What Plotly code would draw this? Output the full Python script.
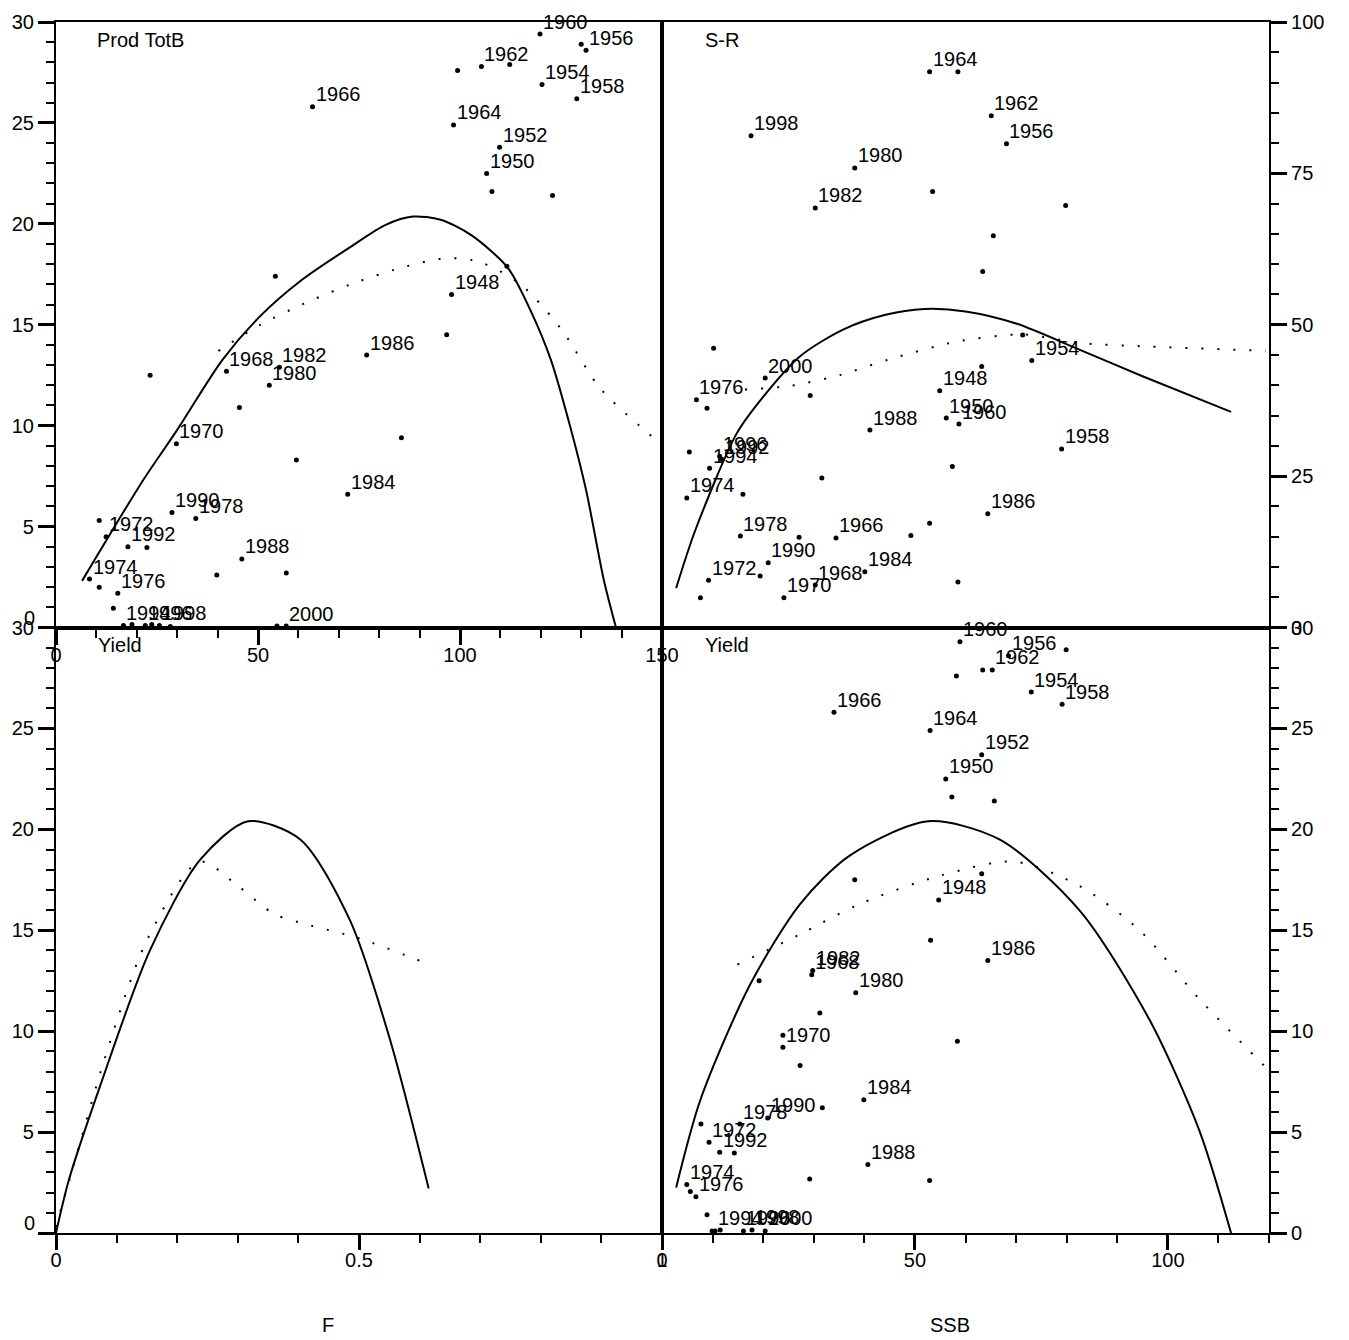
import plotly.graph_objects as go

FONT = "Liberation Sans, Arial, sans-serif"

# ---------------- data ----------------
# Panel 1: Prod TotB  (x = total biomass, y = yield)
tl_totb = [119.8, 130.0, 131.2, 105.3, 112.3, 99.4, 120.3, 128.9, 98.4, 109.8, 106.6, 107.9, 122.9,
           63.5, 97.9, 111.6, 96.7, 54.3, 76.9, 55.3, 52.8, 42.2, 23.3, 45.4, 29.8, 85.5, 59.5,
           72.2, 28.7, 34.6, 10.7, 12.4, 17.8, 22.5, 46.0, 8.3, 10.7, 15.3, 39.8, 57.0, 14.2,
           16.7, 18.8, 22.1, 23.7, 25.6, 28.3, 54.7, 57.0]
tl_yield = [29.4, 28.9, 28.6, 27.8, 27.9, 27.6, 26.9, 26.2, 24.9, 23.8, 22.5, 21.6, 21.4,
            25.8, 16.5, 17.9, 14.5, 17.4, 13.5, 12.9, 12.0, 12.7, 12.5, 10.9, 9.1, 9.4, 8.3,
            6.6, 5.7, 5.4, 5.3, 4.5, 4.0, 3.96, 3.4, 2.4, 2.0, 1.7, 2.6, 2.7, 0.95,
            0.1, 0.15, 0.1, 0.15, 0.1, 0.05, 0.07, 0.07]
tl_year = ["1960", "", "1956", "1962", "", "", "1954", "1958", "1964", "1952", "1950", "", "",
           "1966", "1948", "", "", "", "1986", "1982", "1980", "1968", "", "", "1970", "", "",
           "1984", "1990", "1978", "", "1972", "1992", "", "1988", "1974", "", "1976", "", "", "",
           "1994", "", "1996", "", "1998", "", "", "2000"]

# Panel 2: S-R  (x = SSB, y = recruitment)
tr_ssb = [52.9, 58.5, 65.1, 68.1, 17.6, 38.1, 30.3, 53.5, 79.8, 65.5, 63.4, 10.2, 73.1, 71.3,
          63.2, 20.4, 6.8, 8.9, 29.3, 54.9, 56.2, 58.7, 41.1, 57.4, 31.6, 5.4, 11.4, 11.8, 9.4,
          4.9, 16.0, 52.9, 64.4, 15.5, 34.4, 49.2, 27.1, 21.0, 9.2, 19.4, 40.1, 30.3, 24.1,
          7.6, 58.5, 79.0]
tr_rec = [91.8, 91.8, 84.5, 79.9, 81.2, 75.9, 69.3, 72.0, 69.7, 64.7, 58.8, 46.1, 44.1, 48.3,
          43.1, 41.2, 37.6, 36.2, 38.3, 39.1, 34.6, 33.6, 32.6, 26.6, 24.7, 29.0, 28.3, 27.8, 26.3,
          21.4, 22.0, 17.2, 18.8, 15.1, 14.8, 15.2, 14.9, 10.7, 7.8, 8.5, 9.2, 7.0, 4.9,
          4.9, 7.5, 29.5]
tr_year = ["1964", "", "1962", "1956", "1998", "1980", "1982", "", "", "", "", "", "1954", "",
           "", "2000", "1976", "", "", "1948", "1950", "1960", "1988", "", "", "", "1996", "1992", "1994",
           "1974", "", "", "1986", "1978", "1966", "", "", "1990", "1972", "", "1984", "1968", "1970",
           "", "", "1958"]

# Panel 4: Yield vs SSB
br_ssb = [58.9, 79.9, 68.5, 63.4, 65.3, 58.2, 73.0, 79.1, 53.0, 63.2, 56.1, 57.3, 65.7,
          34.0, 54.7, 63.2, 38.1, 53.1, 64.4, 29.8, 29.6, 38.3, 19.2, 31.2, 23.9, 23.9, 58.4,
          27.3, 39.9, 31.7, 20.9, 15.4, 9.3, 7.7, 11.4, 14.3, 4.9, 5.6, 6.7, 29.2, 40.7, 52.9,
          8.9, 9.9, 10.5, 11.5, 16.1, 17.8, 20.4]
br_yield = [29.3, 28.9, 28.6, 27.9, 27.9, 27.6, 26.8, 26.2, 24.9, 23.7, 22.5, 21.6, 21.4,
            25.8, 16.5, 17.8, 17.5, 14.5, 13.5, 13.0, 12.8, 11.9, 12.5, 10.9, 9.2, 9.8, 9.5,
            8.3, 6.6, 6.2, 5.7, 5.4, 4.5, 5.4, 4.0, 3.96, 2.4, 2.06, 1.8, 2.67, 3.4, 2.6,
            0.9, 0.1, 0.1, 0.15, 0.1, 0.15, 0.1]
br_year = ["1960", "", "1956", "", "1962", "", "1954", "1958", "1964", "1952", "1950", "", "",
           "1966", "1948", "", "", "", "1986", "1982", "1968", "1980", "", "", "1970", "", "",
           "", "1984", "", "1990", "1978", "1972", "", "1992", "", "1974", "", "1976", "", "1988", "",
           "", "", "1994", "", "1996", "1998", "2000"]

# model curves
tl_fit_b = [6.45, 21.6, 30.0, 41.2, 50.6, 60.5, 72.9, 81.6, 88.3, 95.2, 102.7, 111.8, 117.5,
            122.5, 127.5, 131.2, 135.6, 138.6]
tl_fit_y = [2.31, 7.31, 9.79, 13.26, 15.44, 17.17, 18.86, 19.95, 20.36, 20.2, 19.45, 17.83, 15.69,
            13.26, 9.79, 6.82, 2.35, 0.0]
tl_obs_b = [40.2, 50.6, 62.0, 72.9, 85.0, 96.5, 105.0, 115.0, 125.0, 134.9, 148.5]
tl_obs_y = [13.7, 15.0, 16.1, 17.0, 17.8, 18.3, 18.1, 17.0, 14.8, 11.8, 9.3]

tr_fit_s = [2.8, 6.6, 14.8, 20.0, 27.3, 35.8, 44.0, 51.9, 60.0, 70.0, 82.5, 95.0, 112.5]
tr_fit_r = [6.5, 16.1, 32.1, 38.1, 44.8, 49.2, 51.6, 52.6, 52.2, 50.2, 45.9, 41.5, 35.6]
tr_obs_s = [16.4, 25.3, 35.2, 45.0, 58.2, 71.3, 82.5, 96.3, 119.4]
tr_obs_r = [39.3, 39.9, 41.7, 44.3, 47.2, 48.4, 47.0, 46.4, 45.7]

bl_fit_f = [0.0, 0.021, 0.073, 0.155, 0.238, 0.317, 0.403, 0.485, 0.551, 0.615]
bl_fit_y = [0.0, 2.6, 7.3, 14.0, 18.5, 20.4, 19.5, 15.5, 9.6, 2.2]
bl_obs_f = [0.0, 0.04, 0.08, 0.15, 0.237, 0.30, 0.36, 0.40, 0.50, 0.608]
bl_obs_y = [0.3, 4.5, 8.6, 14.5, 18.4, 17.2, 15.8, 15.4, 14.6, 13.4]

br_fit_s = [2.8, 7.6, 17.4, 27.3, 37.1, 52.6, 66.7, 82.5, 96.3, 106.2, 112.5]
br_fit_y = [2.25, 6.6, 12.3, 16.3, 18.7, 20.4, 19.5, 16.0, 10.6, 5.1, 0.0]
br_obs_s = [14.9, 27.3, 39.1, 54.9, 69.7, 82.5, 94.4, 106.2, 119.4]
br_obs_y = [13.3, 14.8, 16.3, 17.7, 18.4, 17.2, 15.0, 11.6, 8.2]

# ---------------- figure ----------------
fig = go.Figure()
line_fit = dict(color="black", width=2, shape="spline", smoothing=0.8)
line_obs = dict(color="black", width=2, dash="2px,14px", shape="spline", smoothing=0.8)
mk = dict(color="black", size=5)


def add_panel(xa, ya, px, py, fx, fy, ox, oy):
    fig.add_trace(go.Scatter(x=fx, y=fy, mode="lines", line=line_fit, xaxis=xa, yaxis=ya,
                             hoverinfo="skip"))
    fig.add_trace(go.Scatter(x=ox, y=oy, mode="lines", line=line_obs, xaxis=xa, yaxis=ya,
                             hoverinfo="skip"))
    if px is not None:
        fig.add_trace(go.Scatter(x=px, y=py, mode="markers", marker=mk, xaxis=xa, yaxis=ya))


add_panel("x", "y", tl_totb, tl_yield, tl_fit_b, tl_fit_y, tl_obs_b, tl_obs_y)
add_panel("x2", "y2", tr_ssb, tr_rec, tr_fit_s, tr_fit_r, tr_obs_s, tr_obs_r)
add_panel("x3", "y3", None, None, bl_fit_f, bl_fit_y, bl_obs_f, bl_obs_y)
add_panel("x4", "y4", br_ssb, br_yield, br_fit_s, br_fit_y, br_obs_s, br_obs_y)

ann = []
for xs, ys, labs, xr, yr in [(tl_totb, tl_yield, tl_year, "x", "y"),
                             (tr_ssb, tr_rec, tr_year, "x2", "y2"),
                             (br_ssb, br_yield, br_year, "x4", "y4")]:
    for xv, yv, lb in zip(xs, ys, labs):
        if lb:
            ann.append(dict(x=xv, y=yv, xref=xr, yref=yr, text=lb, showarrow=False,
                            xanchor="left", yanchor="bottom", xshift=3, yshift=1.5,
                            borderpad=0, borderwidth=0,
                            font=dict(family=FONT, size=20, color="black")))

# page body margin is removed (post_script), so figure pixels == window pixels
W, H = 1349, 1340
ML, MT = 56, 22
MR = W - 1269
MB = H - 1233
PW, PH = W - ML - MR, H - MT - MB


def px2paper(x, y):
    return (x - ML) / PW, (H - MB - y) / PH


for txt, x, y, xa in [("Prod TotB", 95, 40, "left"), ("S-R", 703, 40, "left"),
                      ("Yield", 96, 645, "left"), ("Yield", 703, 645, "left"),
                      ("F", 328, 1325, "center"), ("SSB", 950, 1325, "center")]:
    u, v = px2paper(x, y)
    ann.append(dict(x=u, y=v, xref="paper", yref="paper", text=txt, showarrow=False,
                    xanchor=xa, yanchor="middle", font=dict(family=FONT, size=20, color="black")))

# shifted zero labels on the left axes
for xr, yr in [("x domain", "y"), ("x3 domain", "y3")]:
    ann.append(dict(x=0, y=0, xref=xr, yref=yr, text="0",
                    showarrow=False, xanchor="right", yanchor="middle", xshift=-19, yshift=10,
                    font=dict(family=FONT, size=20, color="black")))

split = 606 / PW
tickfont = dict(family=FONT, size=20, color="black")
common = dict(showline=True, linewidth=2.2, linecolor="black", mirror=True, showgrid=False,
              zeroline=False, ticks="outside", tickwidth=2.5, tickcolor="black", ticklen=15,
              tickfont=tickfont, fixedrange=True)
minor = lambda d: dict(dtick=d, ticklen=8, ticks="outside", tickwidth=2, tickcolor="black", showgrid=False)

yvals30 = [0, 5, 10, 15, 20, 25, 30]
ytext30 = ["", "5", "10", "15", "20", "25", "30"]

fig.update_layout(
    width=W, height=H, margin=dict(l=ML, r=MR, t=MT, b=MB),
    paper_bgcolor="white", plot_bgcolor="white", showlegend=False,
    font=dict(family=FONT, size=20, color="black"),
    xaxis=dict(common, domain=[0, split], anchor="y", range=[0, 150], dtick=50, tick0=0,
               minor=minor(10), ticklabelstandoff=-7),
    yaxis=dict(common, domain=[0.5, 1], anchor="x", range=[0, 30], tickmode="array",
               tickvals=yvals30, ticktext=ytext30, ticklen=16, minor=minor(1)),
    xaxis2=dict(common, domain=[split, 1], anchor="y2", range=[0, 120], ticks="", showticklabels=False),
    yaxis2=dict(common, domain=[0.5, 1], anchor="x2", side="right", range=[0, 100], dtick=25,
                ticklen=16, minor=minor(5)),
    xaxis3=dict(common, domain=[0, split], anchor="y3", range=[0, 1], dtick=0.5, tick0=0,
                minor=minor(0.1), ticklabelstandoff=-7),
    yaxis3=dict(common, domain=[0, 0.5], anchor="x3", range=[0, 30], tickmode="array",
                tickvals=yvals30, ticktext=ytext30, ticklen=16, minor=minor(1)),
    xaxis4=dict(common, domain=[split, 1], anchor="y4", range=[0, 120], dtick=50, tick0=0,
                minor=minor(10), ticklabelstandoff=-7),
    yaxis4=dict(common, domain=[0, 0.5], anchor="x4", side="right", range=[0, 30], dtick=5,
                ticklen=16, minor=minor(1)),
    annotations=ann,
)

fig.write_html("out.html", config={"displayModeBar": False},
               post_script="document.body.style.margin='0';document.body.style.overflow='hidden';")
